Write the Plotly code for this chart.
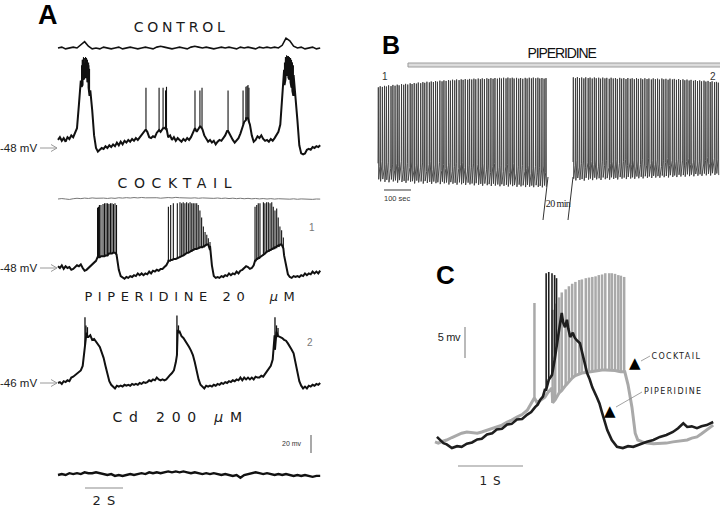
import plotly.graph_objects as go

W, H = 720, 508

# ======================= DATA =======================
# ---- Panel A : membrane potential traces (mV), main traces sampled every 0.1 s ----
A_DT = 0.1
A_DT_SLOW = 0.2

ctrl_main_mv = [
    -39, -36, -40, -37, -41, -36, -38, -34, -36, -30,
    -26, 0, 27, 50, 47, 50, 44, 16, -6, -34,
    -48, -52, -50, -48, -49, -46, -48, -45, -47, -44,
    -46, -42, -45, -41, -44, -40, -42, -39, -41, -38,
    -40, -37, -39, -36, -34, -31, -28, -30, -36, -37,
    -35, -36, -31, -28, -30, -26, -26, -28, -36, -34,
    -39, -36, -40, -37, -39, -41, -38, -40, -37, -39,
    -36, -31, -26, -30, -26, -24, -27, -34, -38, -41,
    -39, -42, -40, -44, -41, -39, -40, -37, -34, -29,
    -31, -36, -39, -42, -40, -37, -32, -26, -19, -15,
    -15, -22, -34, -41, -39, -35, -37, -34, -38, -40,
    -39, -41, -38, -40, -37, -34, -30, -22, 5, 39,
    52, 54, 52, 47, 33, 11, -17, -45, -54, -55,
    -54, -50, -49, -50, -47, -48, -46, -47, -45]
ctrl_spike_t = [1.24, 1.29, 1.34, 1.39, 1.45, 1.50, 1.55, 1.61, 1.66,
                4.63, 5.32, 5.53, 5.66, 5.71, 7.21, 7.47, 7.58, 8.95, 9.74, 9.89, 9.95, 10.0, 10.05,
                11.92, 11.97, 12.03, 12.08, 12.13, 12.18, 12.24, 12.29, 12.34, 12.39]
ctrl_spike_peak = [44, 50, 53, 52, 53, 52, 50, 47, 40,
                   19, 19, 19, 16, 20, 16, 16, 19, 16, 16, 20, 21, 22, 19,
                   47, 53, 55, 54, 54, 53, 52, 50, 47, 44]
ctrl_spike_base = [20, 22, 28, 30, 33, 30, 25, 19, 10,
                   -28, -28, -26, -25, -26, -26, -24, -26, -29, -22, -17, -15, -15, -19,
                   22, 28, 33, 33, 30, 28, 25, 19, 15, 10]

ctrl_top_mv = [
    0, 1, -1, 0, 1, 0, 3, 7, 2, -1,
    0, -1, 1, 0, -1, 0, 1, -1, 0, 1,
    0, -1, 0, 1, 0, -1, 1, 2, 1, 0,
    -1, 0, 1, 0, -1, 1, 2, 1, 0, 1,
    0, -1, 0, 1, 0, 1, 0, -1, 1, 0,
    1, 0, -1, 1, 0, 1, 0, 1, 0, 3,
    11, 8, 2, 0, 1, -1, 0, 1, -1, 0]

cock_top_mv = [
    0, 0.5, 0, -0.5, 0.3, 0.8, 0.4, 1.0, 0.6, 1.2,
    0.8, 1.3, 1.0, 0.6, 1.1, 0.7, 1.4, 1.0, 1.5, 1.1,
    1.6, 1.2, 1.7, 1.3, 1.5, 1.0, 1.4, 0.9, 1.3, 1.6,
    1.2, 1.8, 1.4, 1.1, 1.5, 1.0, 1.3, 0.8, 1.2, 0.9,
    1.3, 0.7, 1.1, 0.6, 1.0, 0.5, 0.9, 0.4, 0.8, 0.3,
    0.7, 0.2, 0.6, 0.1, 0.5, 0.0, 0.4, -0.1, 0.3, 0.0,
    0.4, -0.2, 0.2, -0.3, 0.1, -0.2, 0.2, -0.4, 0.0, -0.1]

cock_main_mv = [
    -46, -48, -45, -49, -46, -48, -47, -50, -49, -47,
    -45, -46, -44, -48, -51, -50, -48, -47, -45, -42,
    -40, -36, -36, -35, -35, -34, -34, -32, -32, -31,
    -31, -37, -50, -57, -59, -60, -58, -59, -57, -58,
    -56, -57, -54, -56, -54, -56, -54, -55, -52, -54,
    -51, -52, -50, -51, -49, -49, -47, -45, -41, -40,
    -39, -38, -38, -37, -36, -35, -34, -32, -31, -30,
    -29, -28, -27, -27, -26, -25, -25, -24, -22, -22,
    -28, -45, -57, -59, -58, -59, -57, -58, -56, -57,
    -54, -56, -54, -55, -52, -54, -51, -50, -48, -46,
    -47, -49, -48, -45, -40, -38, -37, -35, -34, -32,
    -30, -29, -28, -27, -26, -25, -24, -22, -24, -34,
    -46, -55, -58, -59, -57, -58, -57, -58, -56, -57,
    -54, -56, -54, -55, -52, -54, -52, -54, -51]
cock_spike_t = [2.08, 2.13, 2.18, 2.26, 2.37, 2.45, 2.53, 2.61, 2.68, 2.76, 2.84, 2.92, 3.00, 3.08,
                5.81, 5.93, 6.07, 6.28, 6.42, 6.51, 6.59, 6.68, 6.77, 6.86, 6.95, 7.04, 7.12, 7.21,
                7.30, 7.38, 7.47, 7.56, 7.65, 7.74, 7.83, 7.91, 8.00,
                10.37, 10.46, 10.54, 10.63, 10.81, 10.89, 10.98, 11.07, 11.16, 11.25, 11.33, 11.42,
                11.51, 11.59, 11.68, 11.77, 11.86]
cock_spike_peak = [19, 20, 22, 22, 23, 24, 24, 24, 23, 24, 24, 23, 24, 22,
                   20, 22, 24, 24, 25, 24, 25, 24, 25, 24, 25, 24, 24, 24,
                   24, 22, 16, 8, -2, -8, -11, -15, -19,
                   20, 22, 24, 24, 25, 24, 25, 25, 24, 25, 20, 16,
                   18, 8, -2, -6, -14]
cock_spike_base = [-36, -36, -36, -35, -35, -35, -34, -34, -32, -32, -32, -31, -31, -33,
                   -40, -39, -38, -37, -36, -35, -34, -33, -32, -31, -30, -29, -28, -27,
                   -27, -26, -25, -25, -24, -23, -22, -22, -23,
                   -40, -38, -37, -36, -34, -32, -30, -29, -28, -27, -26, -25,
                   -24, -23, -22, -22, -26]

pip_main_mv = [
    -46, -45, -47, -44, -45, -43, -44, -40, -39, -37,
    -36, -34, -32, -27, -4, 10, 5, 7, 2, 3,
    0, -2, -6, -12, -18, -27, -36, -44, -48, -50,
    -52, -49, -50, -49, -50, -48, -49, -48, -49, -47,
    -48, -47, -48, -46, -47, -45, -46, -45, -43, -44,
    -42, -43, -40, -42, -43, -42, -43, -42, -39, -37,
    -35, -32, -23, 13, 11, 6, 4, 1, -2, -6,
    -10, -15, -23, -33, -42, -48, -50, -52, -49, -50,
    -49, -50, -48, -49, -47, -48, -46, -47, -45, -46,
    -44, -45, -43, -44, -42, -43, -40, -43, -40, -42,
    -40, -42, -40, -42, -39, -40, -40, -38, -39, -36,
    -34, -31, -27, -20, 7, 11, 6, 5, 4, 2,
    1, -2, -5, -9, -13, -23, -34, -44, -49, -52,
    -50, -52, -49, -50, -48, -49, -47, -48, -46]
pip_spike_t = [1.42, 1.47, 1.55, 6.26, 6.34, 11.42, 11.50, 11.58]
pip_spike_peak = [27, 18, 16, 29, 18, 27, 18, 15]
pip_spike_base = [-4, 7, 5, -15, 10, -9, 10, 6]

cd_mv = [
    0, 1, 0, 2, 1, 2, 1, 3, 2, 2,
    3, 2, 1, 0, 1, -1, 0, -1, 0, 1,
    0, 1, 2, 1, 3, 2, 3, 2, 3, 4,
    3, 4, 3, 4, 3, 2, 3, 2, 1, 2,
    1, 2, 1, 0, 1, 0, -1, 0, -3, 0,
    1, 2, 3, 2, 1, 2, 1, 0, 1, 0,
    1, 0, -1, 0, -1, 0, -1, -2, -1, -1]

A_SCALE_MV = 20
A_SCALE_S = 2

# ---- Panel B : long recording, spike times (s), peaks / troughs / onsets (mV) ----
b1_t = [0, 7, 15, 23, 30, 38, 47, 54, 62, 70,
        77, 86, 94, 101, 109, 118, 125, 133, 141, 148,
        157, 165, 172, 180, 189, 196, 204, 212, 219, 228,
        236, 243, 251, 260, 267, 275, 283, 290, 299, 307,
        314, 322, 331, 338, 346, 354, 361, 370, 378, 385,
        393, 402, 409, 417, 425, 432, 441, 449, 456, 464,
        473, 480, 488, 496, 503, 512, 520, 527, 535, 544,
        551, 559, 567, 574, 583, 591, 598, 606, 614, 621]
b1_peak = [12.0, 12.8, 12.3, 13.1, 12.6, 13.5, 12.9, 13.8, 13.2, 14.0,
           13.5, 14.4, 13.9, 14.6, 14.1, 15.0, 14.5, 15.2, 14.8, 15.6,
           15.1, 15.9, 15.4, 16.2, 15.7, 16.4, 16.0, 16.7, 16.2, 17.0,
           16.5, 17.2, 16.8, 17.5, 17.0, 17.7, 17.2, 17.9, 17.4, 18.0,
           17.6, 18.2, 17.7, 18.3, 17.9, 18.5, 18.0, 18.6, 18.1, 18.7,
           18.2, 18.8, 18.3, 18.9, 18.4, 19.0, 18.5, 19.1, 18.6, 19.2,
           18.7, 19.3, 18.8, 19.2, 18.6, 19.1, 18.5, 19.0, 18.4, 19.1,
           18.6, 19.2, 18.7, 19.3, 18.8, 19.2, 18.6, 19.0, 18.5, 18.9]
b1_trough = [-57.0, -58.5, -56.8, -58.9, -57.4, -59.2, -57.1, -58.6, -57.8, -59.5,
             -57.6, -59.0, -58.2, -59.6, -57.9, -58.8, -58.4, -60.1, -58.0, -59.3,
             -58.6, -60.2, -58.3, -59.7, -58.9, -60.4, -58.7, -59.9, -59.2, -60.6,
             -58.8, -60.0, -59.4, -60.9, -59.1, -60.3, -59.6, -61.0, -59.3, -60.7,
             -59.8, -61.2, -59.5, -60.8, -60.1, -61.5, -59.9, -61.1, -60.4, -61.8,
             -60.2, -61.4, -60.6, -62.0, -60.3, -61.7, -60.9, -62.2, -60.7, -61.9,
             -61.1, -62.4, -60.8, -62.1, -61.3, -62.6, -61.0, -62.3, -61.5, -62.8,
             -61.2, -62.5, -61.7, -62.9, -61.4, -62.7, -61.9, -63.0, -61.6, -62.6]
b1_onset = [-45.0, -47.5, -43.8, -49.2, -46.1, -44.3, -48.7, -45.6, -50.1, -44.9,
            -47.3, -43.5, -49.8, -46.4, -45.2, -48.1, -44.0, -50.6, -46.9, -45.5,
            -48.4, -44.7, -47.0, -51.2, -45.8, -43.9, -49.5, -46.2, -47.8, -44.4,
            -50.3, -45.9, -48.9, -46.7, -44.2, -51.0, -47.4, -45.1, -49.0, -46.0,
            -44.6, -48.2, -50.8, -46.5, -47.9, -44.8, -51.5, -45.7, -48.6, -47.1,
            -45.4, -49.9, -46.3, -52.0, -47.6, -45.0, -50.2, -48.0, -46.8, -51.3,
            -47.7, -46.1, -51.8, -48.5, -45.3, -52.4, -47.2, -49.6, -46.6, -50.9,
            -48.8, -46.4, -52.6, -49.1, -47.5, -51.6, -48.3, -50.0, -47.0, -52.1]

b2_t = [0, 8, 15, 23, 31, 39, 46, 55, 62, 70,
        78, 85, 94, 101, 109, 117, 124, 133, 140, 148,
        156, 163, 172, 179, 187, 195, 202, 211, 218, 226,
        234, 241, 250, 257, 265, 273, 280, 289, 296, 304,
        312, 319, 328, 335, 343, 351, 358, 367, 374, 382,
        390, 397, 406, 413, 421, 429, 436, 445, 452, 460,
        468, 475, 484, 491, 499, 507, 514, 523, 530, 537]
b2_peak = [19.5, 18.8, 19.6, 19.0, 19.4, 18.7, 19.5, 18.9, 19.3, 18.6,
           19.4, 18.8, 19.2, 18.5, 19.3, 18.7, 19.1, 18.4, 19.2, 18.6,
           19.0, 18.3, 19.1, 18.5, 18.9, 18.2, 19.0, 18.4, 18.8, 18.1,
           18.9, 18.3, 18.7, 18.0, 18.8, 18.2, 18.6, 17.9, 18.7, 18.1,
           18.5, 17.8, 18.6, 18.0, 18.4, 17.7, 18.5, 17.9, 18.3, 17.6,
           18.2, 17.5, 18.0, 17.3, 17.8, 17.1, 17.6, 16.9, 17.4, 16.7,
           17.2, 16.5, 17.0, 16.3, 16.8, 16.0, 16.5, 15.8, 16.1, 15.5]
b2_trough = [-56.5, -57.8, -56.0, -57.4, -56.8, -58.0, -55.9, -57.2, -56.4, -57.6,
             -55.8, -57.0, -56.2, -57.5, -55.6, -56.9, -56.1, -57.3, -55.5, -56.7,
             -55.9, -57.1, -55.3, -56.5, -55.7, -56.8, -55.2, -56.4, -55.5, -56.6,
             -54.9, -56.2, -55.1, -56.3, -54.7, -55.9, -54.9, -56.0, -54.4, -55.7,
             -54.6, -55.8, -54.2, -55.4, -54.5, -55.6, -53.9, -55.2, -54.1, -55.3,
             -53.6, -54.9, -53.8, -55.0, -53.3, -54.6, -53.5, -54.7, -53.0, -54.3,
             -53.2, -54.4, -52.7, -54.0, -52.9, -54.1, -52.4, -53.7, -52.6, -53.8]
b2_onset = [-44.0, -46.5, -42.8, -47.9, -45.1, -43.2, -48.3, -44.6, -46.9, -43.7,
            -45.8, -42.5, -47.6, -44.1, -43.4, -46.8, -42.9, -48.0, -45.3, -43.9,
            -46.2, -42.3, -45.0, -47.7, -43.6, -41.9, -46.5, -44.0, -45.7, -42.6,
            -47.1, -43.3, -45.9, -42.1, -44.8, -46.4, -41.6, -45.2, -43.0, -46.0,
            -42.4, -45.6, -47.3, -43.1, -44.5, -41.4, -46.7, -42.8, -45.4, -43.8,
            -41.9, -45.1, -42.6, -46.9, -43.5, -41.2, -45.8, -44.2, -42.0, -46.3,
            -43.9, -41.7, -45.5, -42.9, -40.8, -45.0, -43.3, -41.5, -44.7, -42.2]
B_SCALE_S = 100
B_DRUG_START_S = 111

# ---- Panel C : one burst, cocktail (grey) vs piperidine (black) ----
gray_t = [0.00, 0.05, 0.12, 0.18, 0.26, 0.34, 0.41, 0.49, 0.57, 0.65,
          0.72, 0.80, 0.88, 0.95, 1.03, 1.11, 1.18, 1.26, 1.34, 1.42,
          1.49, 1.57, 1.62, 1.69, 1.74, 1.80,
          2.92, 2.97, 3.03, 3.08, 3.12, 3.19, 3.26, 3.36, 3.46, 3.56,
          3.66, 3.77, 3.88, 3.95, 4.03, 4.10, 4.18, 4.28]
gray_mv = [-0.3, -0.5, -0.2, 0.0, 0.4, 0.8, 1.1, 1.3, 1.2, 1.1,
           1.3, 1.6, 1.8, 2.1, 2.4, 2.9, 3.2, 3.7, 4.1, 4.8,
           6.0, 6.0, 6.4, 6.9, 7.7, 8.4,
           11.0, 8.9, 5.3, 1.1, 0.0, -0.3, -0.5, -0.6, -0.6, -0.5,
           -0.3, -0.1, 0.0, 0.3, 0.5, 1.0, 1.6, 2.4]
gray_spike_t = [1.53, 1.81, 1.85, 1.91, 1.95, 2.01, 2.06, 2.11, 2.16, 2.22, 2.26, 2.32,
                2.37, 2.42, 2.47, 2.52, 2.57, 2.62, 2.68, 2.72, 2.77, 2.82, 2.86, 2.91]
gray_spike_peak = [22.1, 21.0, 22.0, 23.0, 23.8, 24.3, 24.8, 25.2, 25.5, 25.8, 25.9, 26.1,
                   26.2, 26.3, 26.4, 26.6, 26.7, 26.9, 26.9, 26.9, 26.8, 26.6, 26.5, 26.3]
gray_spike_base = [6.8, 6.0, 6.5, 7.6, 8.0, 8.8, 9.5, 10.0, 10.4, 10.7, 10.8, 10.9,
                   11.0, 11.0, 11.1, 11.2, 11.3, 11.3, 11.3, 11.2, 11.2, 11.1, 11.0, 11.0]

black_t = [0.03, 0.08, 0.13, 0.18, 0.26, 0.34, 0.41, 0.49, 0.57, 0.65,
           0.72, 0.80, 0.88, 0.95, 1.03, 1.11, 1.18, 1.26, 1.34, 1.42,
           1.48, 1.54, 1.58, 1.62, 1.66, 1.69,
           1.89, 1.92, 1.95, 1.97, 2.00, 2.03, 2.05, 2.08, 2.12, 2.15,
           2.18, 2.23, 2.28, 2.34, 2.38, 2.42, 2.49, 2.53, 2.57, 2.61,
           2.65, 2.72, 2.80, 2.89, 2.97, 3.05, 3.15, 3.26, 3.36, 3.46,
           3.56, 3.66, 3.74, 3.82, 3.88, 3.95, 4.03, 4.10, 4.18, 4.28]
black_mv = [0.5, 0.0, -0.5, -0.7, -1.3, -1.0, -1.1, -0.6, -0.4, 0.1,
            0.2, 0.9, 1.1, 1.7, 1.8, 2.5, 2.6, 3.3, 3.4, 4.1,
            4.5, 5.3, 5.7, 6.5, 7.0, 8.1,
            16.1, 18.5, 20.5, 19.0, 18.2, 19.4, 18.0, 16.6, 17.3, 16.5,
            16.1, 15.6, 13.4, 10.8, 9.8, 8.5, 6.9, 5.9, 4.4, 3.0,
            1.6, 0.0, -1.1, -1.3, -1.0, -1.1, -0.7, -0.3, 0.0, 0.5,
            0.8, 1.3, 1.9, 2.7, 2.1, 2.2, 1.9, 2.2, 2.4, 2.9]
black_spike_t = [1.71, 1.75, 1.80, 1.84, 1.87]
black_spike_peak = [26.9, 27.1, 26.9, 26.6, 26.1]
black_spike_base = [8.1, 9.7, 10.5, 12.9, 15.3]
C_SCALE_MV = 5
C_SCALE_S = 1

# ======================= LAYOUT GEOMETRY (pixels of the 720x508 page) =======================
A_X0, A_PX_PER_S, A_PX_PER_MV = 58, 19.0, 18.0 / 20.0
B_X0, B_PX_PER_S, B_Y_REF, B_PX_PER_MV, B_V_REF = 378, 0.27, 170, 1 / 0.75, -50
B_SEG2_X0 = 573
C_X0, C_PX_PER_S, C_Y0, C_PX_PER_MV = 435, 65.0, 440, 6.2

def fx(x):
    return x / W

def fy(y):
    return 1 - y / H

# rows (pixel y) where each panel-A trace's reference level sits, and that level in mV
A_ROWS = {"ctrl_top": (48, 0), "ctrl": (148, -48), "cock_top": (199, 0),
          "cock": (268, -48), "pip": (383, -46), "cd": (475, 0)}

def a_disp(vals, key):
    row, v0 = A_ROWS[key]
    return [v - v0 - row / A_PX_PER_MV for v in vals]

def merged(ts, vs, st, sb):
    pairs = sorted(list(zip(ts, vs)) + list(zip(st, sb)))
    return [p[0] for p in pairs], [p[1] for p in pairs]

def spikes(st, sp, sb):
    xs, ys = [], []
    for t, p, b in zip(st, sp, sb):
        xs += [t, t, None]
        ys += [b, p, None]
    return xs, ys

fig = go.Figure()
BLACK = "#111111"

# ---- Panel A traces ----
def add_a(vals, dt, key, width, color, st=None, sp=None, sb=None, spw=1.0):
    ts = [i * dt for i in range(len(vals))]
    if st:
        tt, vv = merged(ts, vals, st, sb)
    else:
        tt, vv = ts, vals
    fig.add_trace(go.Scatter(x=tt, y=a_disp(vv, key), mode="lines",
                             line=dict(color=color, width=width), xaxis="x", yaxis="y",
                             hoverinfo="skip"))
    if st:
        xs, ys = spikes(st, sp, sb)
        ys = [None if y is None else a_disp([y], key)[0] for y in ys]
        fig.add_trace(go.Scatter(x=xs, y=ys, mode="lines",
                                 line=dict(color=color, width=spw), xaxis="x", yaxis="y",
                                 hoverinfo="skip"))

add_a(ctrl_top_mv, A_DT_SLOW, "ctrl_top", 1.6, BLACK)
add_a(ctrl_main_mv, A_DT, "ctrl", 2.0, BLACK, ctrl_spike_t, ctrl_spike_peak, ctrl_spike_base, 1.1)
add_a(cock_top_mv, A_DT_SLOW, "cock_top", 1.0, "#777777")
add_a(cock_main_mv, A_DT, "cock", 2.0, BLACK, cock_spike_t, cock_spike_peak, cock_spike_base, 1.1)
add_a(pip_main_mv, A_DT, "pip", 2.0, BLACK, pip_spike_t, pip_spike_peak, pip_spike_base, 1.3)
add_a(cd_mv, A_DT_SLOW, "cd", 2.4, BLACK)

# ---- Panel B traces ----
def add_b(times, peaks, troughs, onsets, offset):
    xs, ys = [], []
    for t, p, tr, o in zip(times, peaks, troughs, onsets):
        xs += [t + offset, t + offset + 1.2, t + offset + 2.6]
        ys += [o, p, tr]
    fig.add_trace(go.Scatter(x=xs, y=ys, mode="lines", line=dict(color="#3a3a3a", width=0.9),
                             xaxis="x2", yaxis="y2", hoverinfo="skip"))

B_SEG2_OFFSET = (B_SEG2_X0 - B_X0) / B_PX_PER_S
add_b(b1_t, b1_peak, b1_trough, b1_onset, 0)
add_b(b2_t, b2_peak, b2_trough, b2_onset, B_SEG2_OFFSET)

# ---- Panel C traces ----
GRAY = "#a9a9a9"
gt, gv = merged(gray_t, gray_mv, gray_spike_t, gray_spike_base)
fig.add_trace(go.Scatter(x=gt, y=gv, mode="lines", line=dict(color=GRAY, width=3),
                         xaxis="x3", yaxis="y3", hoverinfo="skip"))
xs, ys = spikes(gray_spike_t, gray_spike_peak, gray_spike_base)
fig.add_trace(go.Scatter(x=xs, y=ys, mode="lines", line=dict(color=GRAY, width=2.5),
                         xaxis="x3", yaxis="y3", hoverinfo="skip"))
bt, bv = merged(black_t, black_mv, black_spike_t, black_spike_base)
fig.add_trace(go.Scatter(x=bt, y=bv, mode="lines", line=dict(color="#1e1e1e", width=2.6),
                         xaxis="x3", yaxis="y3", hoverinfo="skip"))
xs, ys = spikes(black_spike_t, black_spike_peak, black_spike_base)
fig.add_trace(go.Scatter(x=xs, y=ys, mode="lines", line=dict(color="#1e1e1e", width=1.6),
                         xaxis="x3", yaxis="y3", hoverinfo="skip"))

# ======================= AXES =======================
def hidden(**kw):
    d = dict(visible=False, showgrid=False, zeroline=False, fixedrange=True, domain=[0, 1])
    d.update(kw)
    return d

fig.update_layout(
    xaxis=hidden(range=[(0 - A_X0) / A_PX_PER_S, (W - A_X0) / A_PX_PER_S], anchor="y"),
    yaxis=hidden(range=[-H / A_PX_PER_MV, 0], anchor="x"),
    xaxis2=hidden(range=[(0 - B_X0) / B_PX_PER_S, (W - B_X0) / B_PX_PER_S], anchor="y2", overlaying="x"),
    yaxis2=hidden(range=[B_V_REF - (H - B_Y_REF) / B_PX_PER_MV, B_V_REF + B_Y_REF / B_PX_PER_MV],
                  anchor="x2", overlaying="y"),
    xaxis3=hidden(range=[(0 - C_X0) / C_PX_PER_S, (W - C_X0) / C_PX_PER_S], anchor="y3", overlaying="x"),
    yaxis3=hidden(range=[(C_Y0 - H) / C_PX_PER_MV, C_Y0 / C_PX_PER_MV], anchor="x3", overlaying="y"),
)

# ======================= SHAPES =======================
shapes = []
SB = "#8c8c8c"
# panel A scale bars (20 mV, 2 s)
a_sb_t = (311 - A_X0) / A_PX_PER_S
a_sb_y = -453 / A_PX_PER_MV
shapes.append(dict(type="line", xref="x", yref="y", x0=a_sb_t, x1=a_sb_t, y0=a_sb_y, y1=a_sb_y + A_SCALE_MV,
                   line=dict(color=SB, width=1.5)))
a_hb_t = (85 - A_X0) / A_PX_PER_S
a_hb_y = -488 / A_PX_PER_MV
shapes.append(dict(type="line", xref="x", yref="y", x0=a_hb_t, x1=a_hb_t + A_SCALE_S, y0=a_hb_y, y1=a_hb_y,
                   line=dict(color=SB, width=1.2)))
# panel A arrows to resting levels
for row in (148, 268, 383):
    shapes.append(dict(type="line", xref="paper", yref="paper", x0=fx(40), x1=fx(57), y0=fy(row), y1=fy(row),
                       line=dict(color="#9a9a9a", width=1)))
    for d in (-3.5, 3.5):
        shapes.append(dict(type="line", xref="paper", yref="paper", x0=fx(51), x1=fx(57), y0=fy(row + d),
                           y1=fy(row), line=dict(color="#9a9a9a", width=1)))
# panel B drug bar
b_v_bar_top = B_V_REF + (B_Y_REF - 63) / B_PX_PER_MV
b_v_bar_bot = B_V_REF + (B_Y_REF - 67) / B_PX_PER_MV
shapes.append(dict(type="rect", xref="x2", yref="y2", x0=B_DRUG_START_S, x1=(W + 5 - B_X0) / B_PX_PER_S,
                   y0=b_v_bar_bot, y1=b_v_bar_top, fillcolor="#dcdcdc", line=dict(color="#9c9c9c", width=1)))
# panel B 100 s scale bar
b_sb_v = B_V_REF + (B_Y_REF - 190) / B_PX_PER_MV
b_sb_t = (384 - B_X0) / B_PX_PER_S
shapes.append(dict(type="line", xref="x2", yref="y2", x0=b_sb_t, x1=b_sb_t + B_SCALE_S, y0=b_sb_v, y1=b_sb_v,
                   line=dict(color="#7a7a7a", width=1.5)))
# panel B break marks
for (x0, y0, x1, y1) in ((548, 177, 543, 220), (573, 177, 568, 220)):
    shapes.append(dict(type="line", xref="paper", yref="paper", x0=fx(x0), y0=fy(y0), x1=fx(x1), y1=fy(y1),
                       line=dict(color="#333333", width=1)))
# panel C scale bars
c_sb_t = (465 - C_X0) / C_PX_PER_S
c_sb_v = (C_Y0 - 358) / C_PX_PER_MV
shapes.append(dict(type="line", xref="x3", yref="y3", x0=c_sb_t, x1=c_sb_t, y0=c_sb_v, y1=c_sb_v + C_SCALE_MV,
                   line=dict(color=SB, width=1.2)))
c_hb_t = (458 - C_X0) / C_PX_PER_S
c_hb_v = (C_Y0 - 466) / C_PX_PER_MV
shapes.append(dict(type="line", xref="x3", yref="y3", x0=c_hb_t, x1=c_hb_t + C_SCALE_S, y0=c_hb_v, y1=c_hb_v,
                   line=dict(color=SB, width=1.2)))
# panel C leader lines
for (x0, y0, x1, y1) in ((641, 361, 650, 356), (616, 407, 642, 392)):
    shapes.append(dict(type="line", xref="paper", yref="paper", x0=fx(x0), y0=fy(y0), x1=fx(x1), y1=fy(y1),
                       line=dict(color="#8a8a8a", width=0.8)))

# ======================= TEXT =======================
annots = []
spacing = {}
GOTHIC = "DejaVu Sans"
ARIAL = "Liberation Sans"

def txt(x, y, s, size, family=ARIAL, color="#111111", xanchor="center", bold=False, ls=None):
    d = dict(x=fx(x + (ls / 2 if ls else 0)), y=fy(y), xref="paper", yref="paper", text=s, showarrow=False,
             xanchor=xanchor, yanchor="middle",
             font=dict(family=family, size=size, color=color, weight="bold" if bold else "normal"))
    if ls is not None:
        spacing[len(annots)] = ls
    annots.append(d)

txt(48, 15, "A", 27, ARIAL, "#000000", bold=True)
txt(391, 45, "B", 25, ARIAL, "#000000", bold=True)
txt(445, 275, "C", 26, ARIAL, "#000000", bold=True)

txt(180, 27, "CONTROL", 14, GOTHIC, "#1a1a1a", ls=3.8)
txt(175, 183, "COCKTAIL", 14, GOTHIC, "#1a1a1a", ls=6.6)
txt(190, 296, "PIPERIDINE 20  <i>μ</i>M", 13, GOTHIC, "#1a1a1a", ls=5.6)
txt(177, 417, "Cd 200 <i>μ</i>M", 14, GOTHIC, "#1a1a1a", ls=6.8)

txt(39, 148, "-48 mV", 11.5, ARIAL, "#222222", xanchor="right")
txt(39, 268, "-48 mV", 11.5, ARIAL, "#222222", xanchor="right")
txt(39, 383, "-46 mV", 11.5, ARIAL, "#222222", xanchor="right")
txt(312, 227, "1", 10, ARIAL, "#777777")
txt(310, 342, "2", 10, ARIAL, "#777777")
txt(292, 443, "20 mv", 7, ARIAL, "#333333")
txt(104, 500, "2 S", 13, GOTHIC, "#222222", ls=1.0)

txt(562, 53, "PIPERIDINE", 14, ARIAL, "#111111", ls=-1.1)
txt(385, 77, "1", 10, ARIAL, "#333333")
txt(713, 77, "2", 10, ARIAL, "#333333")
txt(397, 198, "100 sec", 7.5, ARIAL, "#333333")
txt(558, 204, "20 min", 10, "Liberation Serif", "#222222", ls=-0.6)

txt(449, 337, "5 mv", 11, ARIAL, "#222222", ls=-0.4)
txt(490, 481, "1 S", 12, GOTHIC, "#222222", ls=1.0)
txt(635, 363, "▲", 15, GOTHIC, "#000000")
txt(610, 411, "▲", 15, GOTHIC, "#000000")
txt(676, 356, "COCKTAIL", 8, GOTHIC, "#222222", ls=1.4)
txt(673, 391, "PIPERIDINE", 8, GOTHIC, "#222222", ls=1.4)

fig.update_layout(width=W, height=H, margin=dict(l=0, r=0, t=0, b=0), showlegend=False,
                  paper_bgcolor="white", plot_bgcolor="white", shapes=shapes, annotations=annots)

post = """
document.body.style.margin = '0';
document.body.style.padding = '0';
document.body.style.overflow = 'hidden';
var sp = %s;
var gd = document.getElementById('{plot_id}');
Object.keys(sp).forEach(function(k){
  var el = gd.querySelector('g.annotation[data-index="' + k + '"] text.annotation-text');
  if (el) { el.style.letterSpacing = sp[k] + 'px'; }
});
""" % str({str(k): v for k, v in spacing.items()}).replace("'", '"')

fig.write_html("out.html", post_script=post, config={"displayModeBar": False, "staticPlot": True})
